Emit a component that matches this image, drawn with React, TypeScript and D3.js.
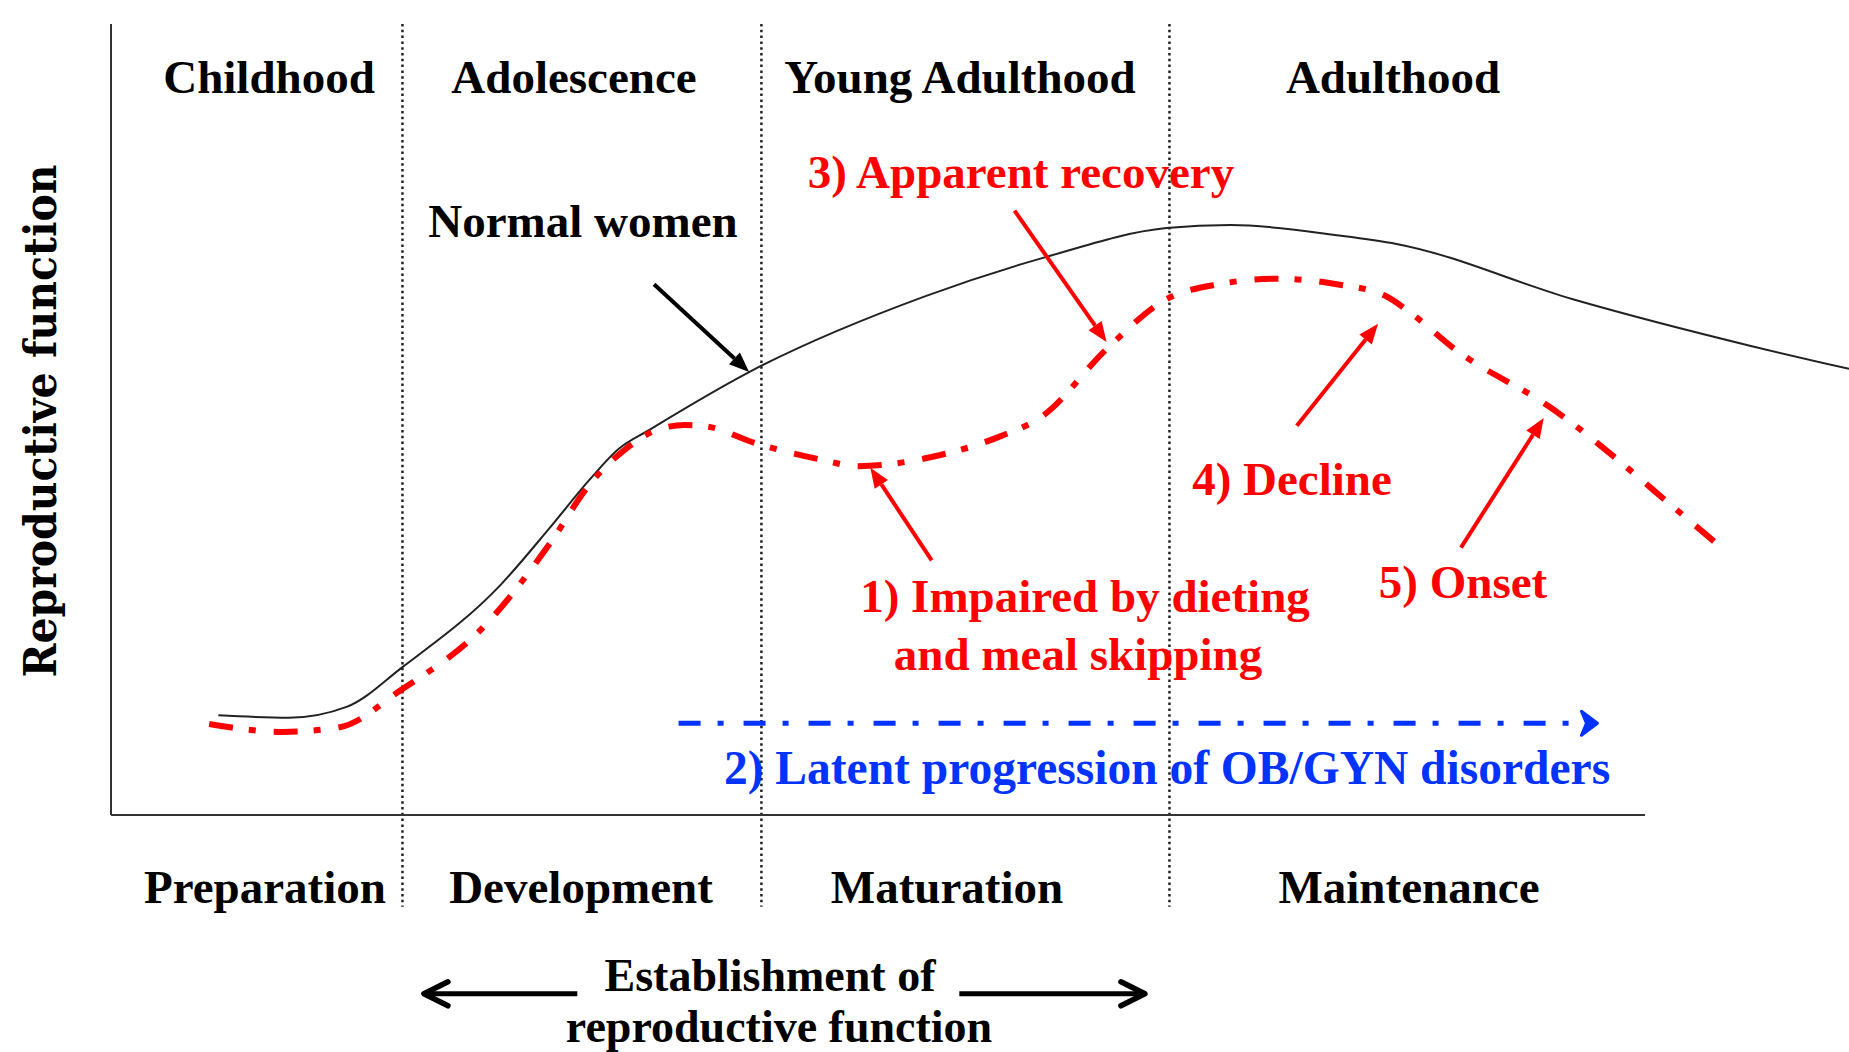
import React, { useEffect } from "react";
import * as d3 from "d3";

// x: life-course position (0..100 spans the drawn x axis), y: relative reproductive function (0..100)
const normalX = [7.0, 11.6, 15.4, 19.0, 25.4, 28.6, 31.2, 33.1, 35.1, 41.6, 53.1, 60.7, 68.8, 73.0, 79.9, 83.8, 95.3, 106.9, 113.3];
const normalY = [12.6, 12.3, 13.7, 18.7, 29.1, 36.3, 42.4, 46.3, 48.7, 56.0, 65.6, 70.4, 74.2, 74.6, 73.3, 72.2, 65.2, 59.3, 56.4];

const dietX = [6.4, 11.2, 14.9, 18.9, 24.3, 28.6, 31.2, 33.5, 35.9, 37.4, 38.9, 42.0, 44.3, 46.6, 48.5, 50.5, 53.1, 58.0, 60.7, 64.9, 68.8, 72.2, 76.1, 79.9, 83.0, 84.9, 87.6, 93.7, 102.6, 105.1];
const dietY = [11.5, 10.5, 11.1, 15.8, 23.8, 34.3, 41.8, 46.2, 48.9, 49.3, 49.1, 47.0, 45.8, 44.8, 44.1, 44.3, 45.1, 47.9, 50.4, 58.9, 65.2, 67.1, 67.8, 67.1, 65.7, 63.2, 58.9, 51.7, 37.7, 33.6];

// latent progression arrow (start, end) and its level
const latentX = [37.0, 96.9];
const latentY = 11.6;

const stageBounds = [19.0, 42.4, 69.0];
const lifeStages = ["Childhood", "Adolescence", "Young Adulthood", "Adulthood"];
const functionStages = ["Preparation", "Development", "Maturation", "Maintenance"];

// annotation arrows: [fromX, fromY, toX, toY]
const annoArrows = [
  { pts: [35.4, 67.1, 41.6, 56.0], color: "#000" },
  { pts: [58.9, 76.4, 64.9, 59.8], color: "#ff0000" },
  { pts: [53.5, 32.2, 49.5, 43.9], color: "#ff0000" },
  { pts: [77.3, 49.2, 82.6, 62.1], color: "#ff0000" },
  { pts: [88.0, 33.8, 93.4, 50.2], color: "#ff0000" },
];

// establishment span arrows below the axis
const establishX = [[30.4, 20.4], [55.3, 67.4]];
const establishY = -22.6;

const W = 1849;
const H = 1052;
const RED = "#ff0000";
const BLUE = "#0033ff";
const FONT = "'Liberation Serif', 'Times New Roman', serif";

export default function App() {
  useEffect(() => {
    document.body.style.margin = "0";
    document.body.style.overflow = "hidden";
  }, []);

  const x = d3.scaleLinear().domain([0, 100]).range([111, 1645]);
  const y = d3.scaleLinear().domain([0, 100]).range([815, 24]);

  const line = d3
    .line<[number, number]>()
    .x((d) => x(d[0]))
    .y((d) => y(d[1]))
    .curve(d3.curveMonotoneX);

  const normalPath = line(normalX.map((v, i) => [v, normalY[i]]))!;
  const dietPath = line(dietX.map((v, i) => [v, dietY[i]]))!;

  const arrowHead = (x1: number, y1: number, x2: number, y2: number, len: number, half: number) => {
    const a = Math.atan2(y2 - y1, x2 - x1);
    const bx = x2 - Math.cos(a) * len;
    const by = y2 - Math.sin(a) * len;
    const px = -Math.sin(a) * half;
    const py = Math.cos(a) * half;
    return { bx, by, p1: [bx + px, by + py], p2: [bx - px, by - py] };
  };

  const txt = (s: string, cx: number, by: number, color = "#000", size = 47) => (
    <text key={s} x={cx} y={by} textAnchor="middle" fontFamily={FONT} fontWeight="bold" fontSize={size} fill={color}>
      {s}
    </text>
  );

  const topLabelX = [269, 574, 960, 1393];
  const bottomLabelX = [265, 581, 947, 1409];

  return (
    <svg width={W} height={H} style={{ display: "block", position: "absolute", left: 0, top: 0, background: "#fff" }}>
      <rect width={W} height={H} fill="#fff" />

      {/* stage dividers */}
      {stageBounds.map((b) => (
        <line key={b} x1={x(b)} x2={x(b)} y1={y(100)} y2={y(-11.6)} stroke="#222" strokeWidth={2.5} strokeDasharray="2.5 3.3" />
      ))}

      {/* axes */}
      <line x1={x(0)} x2={x(0)} y1={y(100)} y2={y(0)} stroke="#333" strokeWidth={2} />
      <line x1={x(0)} x2={x(100)} y1={y(0)} y2={y(0)} stroke="#333" strokeWidth={2} />

      {/* curves */}
      <path d={normalPath} fill="none" stroke="#222" strokeWidth={2} />
      <path d={dietPath} fill="none" stroke={RED} strokeWidth={6} strokeDasharray="24 16 7 18" />

      {/* latent progression */}
      <line x1={x(latentX[0])} x2={x(latentX[1]) - 6} y1={y(latentY)} y2={y(latentY)} stroke={BLUE} strokeWidth={5} strokeDasharray="22 17 6 20" />
      {(() => {
        const h = arrowHead(x(latentX[0]), y(latentY), x(latentX[1]), y(latentY), 16, 12);
        return (
          <polygon
            points={`${h.p1.join(",")} ${x(latentX[1])},${y(latentY)} ${h.p2.join(",")} ${h.bx + 5},${y(latentY)}`}
            fill={BLUE} stroke={BLUE} strokeWidth={3} strokeLinejoin="round"
          />
        );
      })()}

      {/* annotation arrows */}
      {annoArrows.map((a, i) => {
        const [fx, fy, tx, ty] = a.pts;
        const x1 = x(fx), y1 = y(fy), x2 = x(tx), y2 = y(ty);
        const h = arrowHead(x1, y1, x2, y2, 20, 8);
        return (
          <g key={i}>
            <line x1={x1} y1={y1} x2={h.bx} y2={h.by} stroke={a.color} strokeWidth={4} />
            <polygon points={`${x2},${y2} ${h.p1.join(",")} ${h.p2.join(",")}`} fill={a.color} />
          </g>
        );
      })}

      {/* establishment arrows */}
      {establishX.map(([s, e], i) => {
        const h = arrowHead(x(s), y(establishY), x(e), y(establishY), 24, 12);
        return (
          <g key={i}>
            <line x1={x(s)} x2={x(e)} y1={y(establishY)} y2={y(establishY)} stroke="#000" strokeWidth={5} />
            <polyline
              points={`${h.p1.join(",")} ${x(e)},${y(establishY)} ${h.p2.join(",")}`}
              fill="none" stroke="#000" strokeWidth={5.5} strokeLinecap="round" strokeLinejoin="round"
            />
          </g>
        );
      })}

      {/* stage labels */}
      {lifeStages.map((s, i) => txt(s, topLabelX[i], 93))}
      {functionStages.map((s, i) => txt(s, bottomLabelX[i], 903))}

      {txt("Normal women", 583, 237)}
      {txt("3) Apparent recovery", 1021, 188, RED)}
      {txt("4) Decline", 1292, 495, RED)}
      {txt("5) Onset", 1463, 598, RED)}
      {txt("1) Impaired by dieting", 1085, 612, RED)}
      {txt("and meal skipping", 1078, 670, RED)}
      {txt("2) Latent progression of OB/GYN disorders", 1167, 784, BLUE, 47.5)}
      {txt("Establishment of", 770, 991, "#000", 46)}
      {txt("reproductive function", 779, 1042, "#000", 46)}

      {/* y axis title */}
      <text
        transform="translate(56,421) rotate(-90)"
        textAnchor="middle"
        fontFamily="'DejaVu Serif', serif"
        fontWeight="bold"
        fontSize={45}
        textLength={513}
        lengthAdjust="spacingAndGlyphs"
        fill="#000"
      >
        Reproductive function
      </text>
    </svg>
  );
}
